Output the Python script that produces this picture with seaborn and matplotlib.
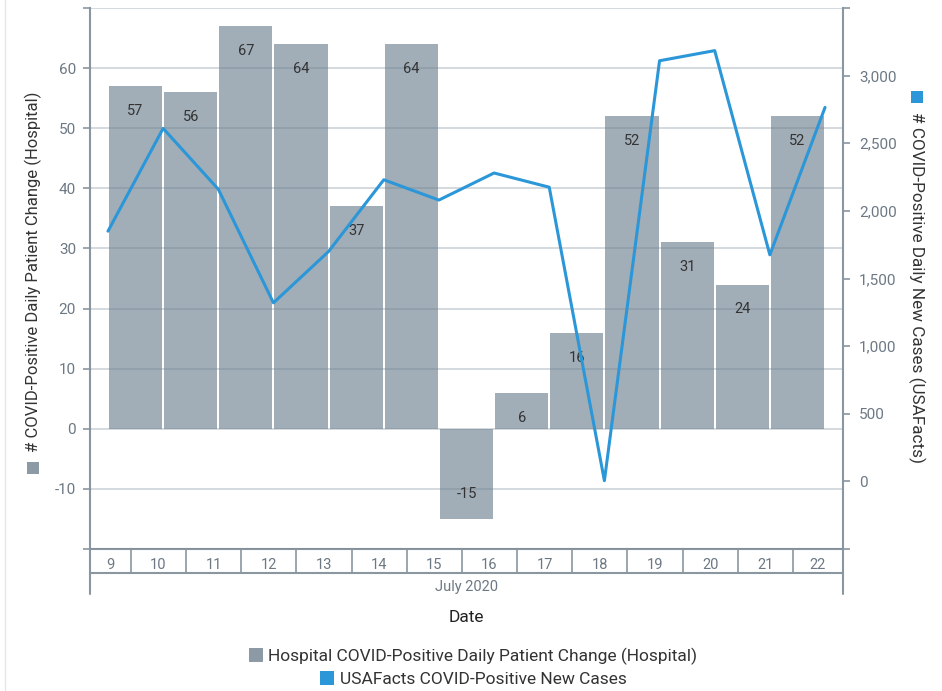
import numpy as np
import pandas as pd
import matplotlib
matplotlib.use("Agg")
import matplotlib.pyplot as plt
import matplotlib.transforms as mtransforms
from matplotlib.patches import Patch, Rectangle
from matplotlib.lines import Line2D
import seaborn as sns

# ---------------- data ----------------
days = [9, 10, 11, 12, 13, 14, 15, 16, 17, 18, 19, 20, 21, 22]
month_label = "July 2020"
hospital_change = [57, 56, 67, 64, 37, 64, -15, 6, 16, 52, 31, 24, 52]
new_cases = [1850, 2610, 2160, 1320, 1700, 2230, 2080, 2280, 2175, 5, 3110, 3185, 1675, 2765]
left_ticks = [-20, -10, 0, 10, 20, 30, 40, 50, 60, 70]
left_ticklabels = ["", "-10", "0", "10", "20", "30", "40", "50", "60", ""]
right_ticks = [-500, 0, 500, 1000, 1500, 2000, 2500, 3000, 3500]
right_ticklabels = ["", "0", "500", "1,000", "1,500", "2,000", "2,500", "3,000", ""]
bar_name = "Hospital COVID-Positive Daily Patient Change (Hospital)"
line_name = "USAFacts COVID-Positive New Cases"
left_title = "# COVID-Positive Daily Patient Change (Hospital)"
right_title = "# COVID-Positive Daily New Cases (USAFacts)"
x_title = "Date"

# ---------------- style ----------------
BAR = "#a1adb7"
BAR_LEG = "#8c9aa6"
LINE = "#2b97d8"
AXC = "#8a96a0"
TICKC = "#6c7884"
TXT = "#333333"

sns.set_style("white")
plt.rcParams["font.family"] = ["Roboto", "DejaVu Sans"]

W, H = 942, 691
fig = plt.figure(figsize=(W / 100, H / 100), dpi=100)
ax = fig.add_axes([90 / W, 1 - 549 / H, (843 - 90) / W, 541 / H])
ax2 = ax.twinx()

bar_df = pd.DataFrame({"pos": np.arange(len(hospital_change)) + 0.5, "val": hospital_change})
line_df = pd.DataFrame({"pos": np.arange(len(new_cases)), "val": new_cases})

sns.barplot(data=bar_df, x="pos", y="val", native_scale=True, width=0.965,
            color=BAR, saturation=1, ax=ax, zorder=1, linewidth=0)
sns.lineplot(data=line_df, x="pos", y="val", ax=ax2, color=LINE, linewidth=2.2)

xlim = (-0.326, 13.326)
ax.set_xlim(*xlim)
ax.set_ylim(-20, 70)
ax2.set_ylim(-500, 3500)

ax.set_yticks(left_ticks)
ax.set_yticklabels(left_ticklabels)
ax2.set_yticks(right_ticks)
ax2.set_yticklabels(right_ticklabels)

ax.grid(False)
ax.yaxis.grid(True, color="#6f8190", alpha=0.35, linewidth=1.2)
ax.set_axisbelow(False)
ax2.grid(False)

for a in (ax, ax2):
    a.set_xlabel("")
    a.set_ylabel("")
    for s in a.spines.values():
        s.set_visible(False)
ax.spines["left"].set_visible(True)
ax.spines["left"].set_color(AXC)
ax.spines["left"].set_linewidth(1.5)
ax.spines["bottom"].set_visible(True)
ax.spines["bottom"].set_color(AXC)
ax.spines["bottom"].set_linewidth(1.5)
ax2.spines["right"].set_visible(True)
ax2.spines["right"].set_color(AXC)
ax2.spines["right"].set_linewidth(1.5)

ax.tick_params(axis="x", bottom=False, labelbottom=False)
ax2.tick_params(axis="x", bottom=False, labelbottom=False)
ax.tick_params(axis="y", left=True, direction="out", length=5, width=1.2, color=AXC,
               labelcolor=TICKC, labelsize=11, pad=5)
ax2.tick_params(axis="y", right=True, direction="out", length=5, width=1.2, color=AXC,
                labelcolor=TICKC, labelsize=11, pad=6.5)

# bar value labels
ax.bar_label(ax.containers[0], labels=[str(v) for v in hospital_change],
             label_type="edge", padding=-23, fontsize=10.5, color=TXT)

# ---------------- date table below axis ----------------
tr = mtransforms.blended_transform_factory(ax.transData, ax.transAxes)
row_bot = -24 / 541
outer_bot = -45 / 541
seps = [i + 0.417 for i in range(len(days) - 1)]
for s in seps:
    ax.add_line(Line2D([s, s], [0, row_bot], transform=tr, color=AXC, lw=1.2, clip_on=False))
ax.add_line(Line2D([xlim[0], xlim[1]], [row_bot, row_bot], transform=tr, color=AXC, lw=1.5, clip_on=False))
for xe in xlim:
    ax.add_line(Line2D([xe, xe], [0, outer_bot], transform=tr, color=AXC, lw=1.5, clip_on=False))
edges = [xlim[0]] + seps + [xlim[1]]
for i, d in enumerate(days):
    cx = (edges[i] + edges[i + 1]) / 2
    ax.text(cx, -16 / 541, str(d), transform=tr, ha="center", va="center",
            fontsize=10.5, color=TICKC, clip_on=False)
ax.text(sum(xlim) / 2, -38 / 541, month_label, transform=tr, ha="center", va="center",
        fontsize=10.5, color=TICKC)
ax.text(sum(xlim) / 2, -69 / 541, x_title, transform=tr, ha="center", va="center",
        fontsize=12.5, color="#222222")

# ---------------- axis titles ----------------
fig.text(33 / W, 1 - 272 / H, left_title, rotation=90, ha="center", va="center",
         fontsize=12, color=TXT)
fig.add_artist(Rectangle((27 / W, 1 - 474 / H), 12 / W, 12 / H, transform=fig.transFigure,
                         facecolor=BAR_LEG, edgecolor="none"))
fig.text(917 / W, 1 - 288 / H, right_title, rotation=270, ha="center", va="center",
         fontsize=12.3, color=TXT)
fig.add_artist(Rectangle((911 / W, 1 - 103 / H), 12 / W, 12 / H, transform=fig.transFigure,
                         facecolor=LINE, edgecolor="none"))

# ---------------- legend ----------------
for name, col, yy in ((bar_name, BAR_LEG, 656), (line_name, LINE, 679)):
    fig.legend(handles=[Patch(facecolor=col, edgecolor="none")], labels=[name],
               loc="center", bbox_to_anchor=(473 / W, 1 - yy / H), frameon=False,
               fontsize=12.5, labelcolor=TXT, handlelength=0.85, handleheight=0.85,
               handletextpad=0.3, borderpad=0, borderaxespad=0)

# faint page border on the left
fig.add_artist(Line2D([5 / W, 5 / W], [0, 1], transform=fig.transFigure, color="#e3e7ea", lw=1))

fig.savefig("out.png", dpi=100, facecolor="white")
